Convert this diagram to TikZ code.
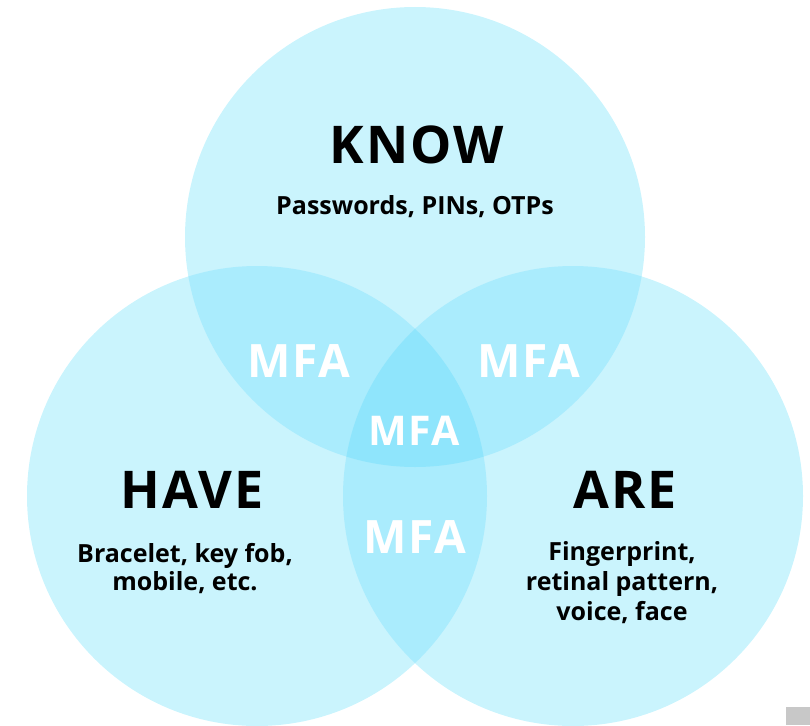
\documentclass[tikz,border=0pt]{standalone}
\usepackage{fontspec}
\setmainfont{Open Sans}
\newfontfamily\headfont{Open Sans}[LetterSpace=4]
\definecolor{vennone}{RGB}{202,244,253}
\definecolor{venntwo}{RGB}{170,236,253}
\definecolor{vennthree}{RGB}{143,229,252}
\definecolor{cornergrey}{RGB}{200,200,200}
\begin{document}
\begin{tikzpicture}[x=1pt,y=-1pt,
  head/.style={anchor=base,inner sep=0pt,text=black,font=\headfont\bfseries\fontsize{52}{52}\selectfont},
  sub/.style={anchor=base,inner sep=0pt,text=black,font=\bfseries\fontsize{25}{30}\selectfont},
  mfa/.style={anchor=base,inner sep=0pt,text=white,font=\headfont\bfseries\fontsize{46}{46}\selectfont},
  mfasmall/.style={mfa,font=\headfont\bfseries\fontsize{41}{41}\selectfont}]
\useasboundingbox (0,0) rectangle (810,725);
\coordinate (ck) at (415,237);
\coordinate (ch) at (257,496);
\coordinate (ca) at (573,496);
% the three sets
\fill[vennone] (ck) circle[radius=230pt] (ch) circle[radius=230pt] (ca) circle[radius=230pt];
% pairwise overlaps
\begin{scope}
  \clip (ck) circle[radius=230pt];
  \fill[venntwo] (ch) circle[radius=230pt] (ca) circle[radius=230pt];
\end{scope}
\begin{scope}
  \clip (ch) circle[radius=230pt];
  \fill[venntwo] (ca) circle[radius=230pt];
\end{scope}
% common region
\begin{scope}
  \clip (ck) circle[radius=230pt];
  \clip (ch) circle[radius=230pt];
  \fill[vennthree] (ca) circle[radius=230pt];
\end{scope}
% labels
\node[head] (know) at (417,163) {KNOW};
\node[sub] (knowtxt) at (415,214) {Passwords, PINs, OTPs};
\node[head] (have) at (192,508) {HAVE};
\node[sub] (have1) at (185,562) {Bracelet, key fob,};
\node[sub] (have2) at (185,590) {mobile, etc.};
\node[head] (are) at (625,508) {ARE};
\node[sub] (are1) at (622,560) {Fingerprint,};
\node[sub] (are2) at (622,590) {retinal pattern,};
\node[sub] (are3) at (622,620) {voice, face};
\node[mfa] (mfakh) at (299,377) {MFA};
\node[mfa] (mfaka) at (529,377) {MFA};
\node[mfasmall] (mfaall) at (414,445) {MFA};
\node[mfa] (mfaha) at (415,553) {MFA};
\fill[cornergrey] (786,707) rectangle (810,725);
\end{tikzpicture}
\end{document}
